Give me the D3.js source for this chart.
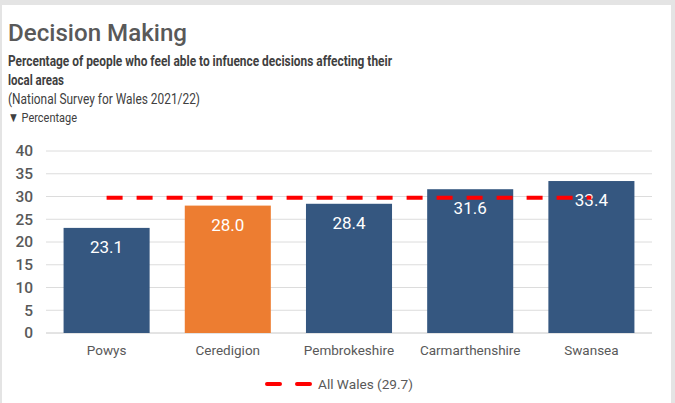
<!DOCTYPE html>
<html>
<head>
<meta charset="utf-8">
<script src="https://cdn.jsdelivr.net/npm/d3@7"></script>
<style>
  html, body { margin: 0; padding: 0; background: #e4e4e4; }
  svg { display: block; }
  text { font-family: "Roboto", "Liberation Sans", sans-serif; }
</style>
</head>
<body>
<svg id="chart" width="675" height="403"></svg>
<script>
// Local authority results
const areas = ["Powys", "Ceredigion", "Pembrokeshire", "Carmarthenshire", "Swansea"];
const values = [23.1, 28.0, 28.4, 31.6, 33.4];
const highlightArea = "Ceredigion";
const walesAverage = 29.7;
const yTicks = [0, 5, 10, 15, 20, 25, 30, 35, 40];

const svg = d3.select("#chart");
const W = 675, H = 403;

// White card
svg.append("rect").attr("x", 2).attr("y", 5).attr("width", 669).attr("height", H - 5).attr("fill", "#ffffff");

// Header text
svg.append("text").attr("x", 8).attr("y", 41)
  .attr("font-size", 23).attr("fill", "#595959").attr("font-weight", 500)
  .attr("textLength", 179).attr("lengthAdjust", "spacingAndGlyphs")
  .text("Decision Making");
svg.append("text").attr("x", 8).attr("y", 66)
  .attr("font-size", 15).attr("font-weight", "bold").attr("fill", "#404040")
  .attr("textLength", 384).attr("lengthAdjust", "spacingAndGlyphs")
  .text("Percentage of people who feel able to infuence decisions affecting their");
svg.append("text").attr("x", 8).attr("y", 85)
  .attr("font-size", 15).attr("font-weight", "bold").attr("fill", "#404040")
  .attr("textLength", 56).attr("lengthAdjust", "spacingAndGlyphs")
  .text("local areas");
svg.append("text").attr("x", 8).attr("y", 104)
  .attr("font-size", 15).attr("fill", "#404040")
  .attr("textLength", 192).attr("lengthAdjust", "spacingAndGlyphs")
  .text("(National Survey for Wales 2021/22)");
svg.append("text").attr("x", 8).attr("y", 122)
  .attr("font-size", 13.5).attr("fill", "#404040")
  .attr("textLength", 69).attr("lengthAdjust", "spacingAndGlyphs")
  .text("▼ Percentage");

// Scales
const plot = { left: 46, right: 652, top: 151, bottom: 333 };
const x = d3.scaleBand().domain(areas).range([plot.left, plot.right]).paddingInner(0.29).paddingOuter(0.145);
const y = d3.scaleLinear().domain([0, 40]).range([plot.bottom, plot.top]);

// Gridlines
svg.append("g").selectAll("line").data(yTicks).join("line")
  .attr("x1", plot.left).attr("x2", plot.right)
  .attr("y1", d => y(d)).attr("y2", d => y(d))
  .attr("stroke", d => d === 0 ? "#c8c8c8" : "#dcdcdc").attr("stroke-width", 1);

// Y axis labels
const yAxis = svg.append("g").attr("transform", `translate(${plot.left - 13},0)`)
  .call(d3.axisLeft(y).tickValues(yTicks).tickSize(0).tickPadding(0));
yAxis.select(".domain").remove();
yAxis.selectAll("text").attr("font-size", 15.5).attr("fill", "#595959")
  .attr("font-family", "'Liberation Sans', sans-serif").attr("font-weight", 500);

// Bars
svg.append("g").selectAll("rect").data(areas).join("rect")
  .attr("x", d => x(d)).attr("width", x.bandwidth())
  .attr("y", (d, i) => y(values[i])).attr("height", (d, i) => y(0) - y(values[i]))
  .attr("fill", d => d === highlightArea ? "#ed7d31" : "#355780");

// Value labels
svg.append("g").selectAll("text").data(areas).join("text")
  .attr("x", d => x(d) + x.bandwidth() / 2)
  .attr("y", (d, i) => y(values[i]) + 25)
  .attr("text-anchor", "middle").attr("font-size", 17).attr("fill", "#ffffff")
  .attr("font-family", "'Liberation Sans', sans-serif")
  .text((d, i) => values[i].toFixed(1));

// X axis labels
const xAxis = svg.append("g").attr("transform", `translate(0,${plot.bottom + 10})`)
  .call(d3.axisBottom(x).tickSize(0).tickPadding(0));
xAxis.select(".domain").remove();
xAxis.selectAll("text").attr("font-size", 13.5).attr("fill", "#595959")
  .attr("font-family", "'Roboto', 'Liberation Sans', sans-serif").attr("dy", "0.9em");

// All Wales average line
const lineX1 = x(areas[0]) + x.bandwidth() / 2;
const lineX2 = x(areas[areas.length - 1]) + x.bandwidth() / 2;
svg.append("line")
  .attr("x1", lineX1).attr("x2", lineX2)
  .attr("y1", y(walesAverage)).attr("y2", y(walesAverage))
  .attr("stroke", "#ff0000").attr("stroke-width", 4)
  .attr("stroke-dasharray", "16 14").attr("stroke-linecap", "butt");

// Legend
const lg = svg.append("g").attr("transform", "translate(267,384)");
lg.append("line").attr("x1", 0).attr("x2", 43).attr("y1", 0).attr("y2", 0)
  .attr("stroke", "#ff0000").attr("stroke-width", 4).attr("stroke-dasharray", "13 17")
  .attr("stroke-linecap", "round");
lg.append("text").attr("x", 51).attr("y", 4.5).attr("font-size", 13).attr("fill", "#595959")
  .attr("textLength", 95).attr("lengthAdjust", "spacingAndGlyphs")
  .text(`All Wales (${walesAverage})`);
</script>
</body>
</html>
